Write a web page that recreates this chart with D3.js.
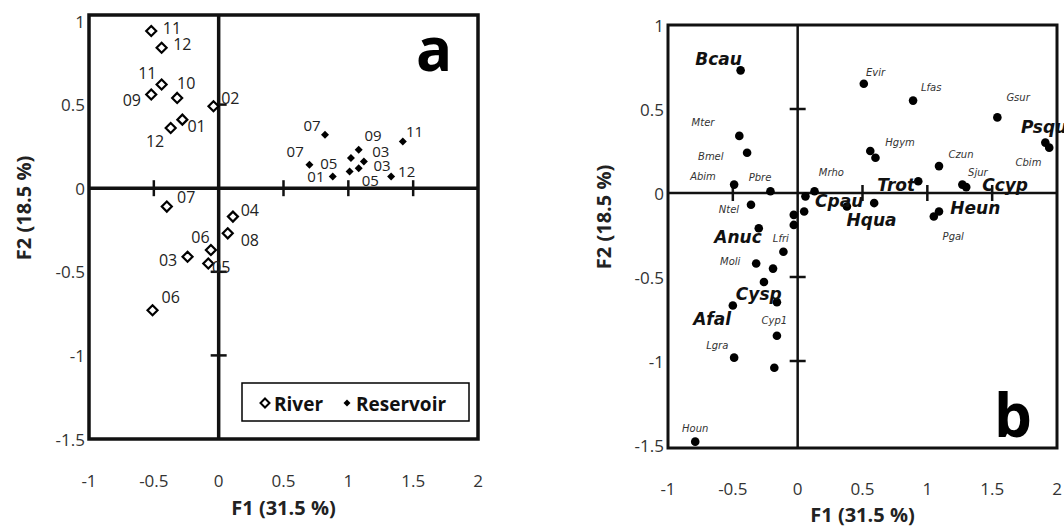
<!DOCTYPE html>
<html><head><meta charset="utf-8">
<script src="https://cdn.jsdelivr.net/npm/d3@7"></script>
<style>body{margin:0;background:#fff} svg{display:block}</style>
</head><body>
<svg id="c" width="1064" height="527"></svg>
<script>
// ---------- shared axis ticks ----------
const f1Ticks = [-1, -0.5, 0, 0.5, 1, 1.5, 2];
const f2Ticks = [-1.5, -1, -0.5, 0, 0.5, 1];
const f1Title = "F1 (31.5 %)";
const f2Title = "F2 (18.5 %)";

// ---------- panel a : sampling occasions ----------
const riverMonth = ["11","12","11","10","09","02","01","12","07","04","08","06","03","05","06"];
const riverF1    = [-0.52,-0.44,-0.44,-0.32,-0.52,-0.04,-0.28,-0.37,-0.40,0.11,0.07,-0.06,-0.24,-0.08,-0.51];
const riverF2    = [0.94,0.84,0.62,0.54,0.56,0.49,0.41,0.36,-0.11,-0.17,-0.27,-0.37,-0.41,-0.45,-0.73];
const riverLabF1 = [-0.36,-0.28,-0.55,-0.25,-0.67,0.09,-0.17,-0.49,-0.25,0.24,0.24,-0.14,-0.39,0.02,-0.37];
const riverLabF2 = [0.96,0.86,0.69,0.63,0.53,0.54,0.37,0.28,-0.05,-0.13,-0.31,-0.29,-0.43,-0.47,-0.65];

const resMonth = ["07","09","11","07","05","03","03","01","05","12"];
const resF1    = [0.82,1.08,1.42,0.70,1.02,1.12,1.08,0.88,1.01,1.33];
const resF2    = [0.32,0.23,0.28,0.14,0.18,0.16,0.12,0.07,0.10,0.07];
const resLabF1 = [0.72,1.19,1.51,0.59,0.85,1.25,1.26,0.75,1.17,1.45];
const resLabF2 = [0.38,0.32,0.34,0.22,0.15,0.22,0.14,0.07,0.05,0.10];
const legendItems = ["River", "Reservoir"];

// ---------- panel b : species ----------
const spF1 = [-0.44,-0.45,-0.39,-0.49,-0.21,-0.36,-0.30,-0.11,-0.32,-0.19,-0.26,-0.16,-0.50,-0.16,-0.49,-0.18,-0.79,
              0.06,0.13,0.05,-0.03,-0.03,0.38,0.59,0.93,0.56,0.60,0.51,0.89,1.54,1.91,1.94,1.09,1.27,1.30,1.09,1.05];
const spF2 = [0.73,0.34,0.24,0.05,0.01,-0.07,-0.21,-0.35,-0.42,-0.45,-0.53,-0.65,-0.67,-0.85,-0.98,-1.04,-1.48,
              -0.02,0.01,-0.11,-0.13,-0.19,-0.08,-0.06,0.07,0.25,0.21,0.65,0.55,0.45,0.30,0.27,0.16,0.05,0.035,-0.11,-0.14];
const spLabel   = ["Bcau","Mter","Bmel","Abim","Pbre","Ntel","Anuc","Lfri","Moli","Cysp","Afal","Cyp1","Lgra","Houn",
                   "Mrho","Cpau","Hqua","Trot","Hgym","Evir","Lfas","Gsur","Psqu","Cbim","Czun","Sjur","Ccyp","Heun","Pgal"];
const spLabelF1 = [-0.61,-0.73,-0.67,-0.73,-0.29,-0.53,-0.46,-0.13,-0.52,-0.30,-0.66,-0.18,-0.62,-0.79,
                   0.26,0.32,0.57,0.76,0.79,0.60,1.03,1.70,1.90,1.78,1.26,1.39,1.60,1.37,1.20];
const spLabelF2 = [0.80,0.42,0.22,0.10,0.09,-0.10,-0.26,-0.27,-0.41,-0.60,-0.75,-0.76,-0.91,-1.40,
                   0.12,-0.05,-0.16,0.05,0.30,0.72,0.63,0.57,0.39,0.18,0.23,0.12,0.05,-0.09,-0.26];
const majorSpecies = ["Bcau","Anuc","Cysp","Afal","Cpau","Hqua","Trot","Psqu","Ccyp","Heun"];

// ---------- drawing ----------
const svg = d3.select("#c");
const INK = "#111";

function panel(cfg) {
  const x = d3.scaleLinear().domain([-1, 2]).range([cfg.x0, cfg.x1]);
  const y = d3.scaleLinear().domain([-1.5, 1]).range([cfg.yb, cfg.yt]);
  const g = svg.append("g");
  g.append("rect").attr("x", cfg.x0).attr("y", cfg.frameTop)
    .attr("width", cfg.x1 - cfg.x0).attr("height", cfg.frameBot - cfg.frameTop)
    .attr("fill", "none").attr("stroke", INK).attr("stroke-width", cfg.frameW);
  g.append("line").attr("x1", cfg.x0).attr("x2", cfg.x1).attr("y1", y(0)).attr("y2", y(0))
    .attr("stroke", INK).attr("stroke-width", cfg.zeroW);
  g.append("line").attr("x1", x(0)).attr("x2", x(0)).attr("y1", cfg.frameTop).attr("y2", cfg.frameBot)
    .attr("stroke", INK).attr("stroke-width", cfg.zeroW);
  const xt = f1Ticks.filter(d => d !== 0 && d > -1 && d < 2);
  g.selectAll(null).data(xt).join("line")
    .attr("x1", d => x(d)).attr("x2", d => x(d)).attr("y1", y(0) - 8).attr("y2", y(0) + 8)
    .attr("stroke", INK).attr("stroke-width", 2.5);
  const yt = f2Ticks.filter(d => d !== 0 && d > -1.5 && d < 1);
  g.selectAll(null).data(yt).join("line")
    .attr("y1", d => y(d)).attr("y2", d => y(d)).attr("x1", x(0) - 8).attr("x2", x(0) + 8)
    .attr("stroke", INK).attr("stroke-width", 2.5);
  g.selectAll(null).data(f1Ticks).join("text")
    .attr("x", d => x(d)).attr("y", cfg.xLabY).attr("text-anchor", "middle")
    .attr("dominant-baseline", "central")
    .attr("font-family", "Open Sans").attr("font-size", 17).attr("fill", "#333")
    .text(d => d);
  g.selectAll(null).data(f2Ticks).join("text")
    .attr("x", cfg.x0 - 4).attr("y", d => y(d)).attr("text-anchor", "end")
    .attr("dominant-baseline", "central")
    .attr("font-family", "Open Sans").attr("font-size", 17).attr("fill", "#333")
    .text(d => d);
  g.append("text").attr("x", (cfg.x0 + cfg.x1) / 2).attr("y", cfg.xTitleY)
    .attr("text-anchor", "middle").attr("dominant-baseline", "central")
    .attr("font-family", "Open Sans").attr("font-weight", "bold").attr("font-size", 20)
    .attr("fill", "#222").text(f1Title);
  g.append("text").attr("transform", `translate(${cfg.yTitleX},${cfg.yTitleY}) rotate(-90)`)
    .attr("text-anchor", "middle").attr("dominant-baseline", "central")
    .attr("font-family", "Open Sans").attr("font-weight", "bold").attr("font-size", 20)
    .attr("fill", "#222").text(f2Title);
  g.append("text").attr("x", cfg.letterX).attr("y", cfg.letterY)
    .attr("text-anchor", "middle")
    .attr("font-family", "Open Sans").attr("font-weight", "bold").attr("font-size", 60)
    .attr("fill", "#000").text(cfg.letter);
  return {g, x, y};
}

// ----- panel a -----
const A = panel({x0: 89, x1: 478, yt: 21, yb: 439, frameTop: 15, frameBot: 439,
  frameW: 3.5, zeroW: 3.5, xLabY: 480, xTitleY: 507, yTitleX: 23, yTitleY: 208,
  letter: "a", letterX: 434, letterY: 71});

const diamond = s => `M0,${-s}L${s},0L0,${s}L${-s},0Z`;
const riverIdx = d3.range(riverMonth.length);
A.g.selectAll(null).data(riverIdx).join("path")
  .attr("transform", i => `translate(${A.x(riverF1[i])},${A.y(riverF2[i])})`)
  .attr("d", diamond(5)).attr("fill", "#fff").attr("stroke", "#000").attr("stroke-width", 2.2);
A.g.selectAll(null).data(riverIdx).join("text")
  .attr("x", i => A.x(riverLabF1[i])).attr("y", i => A.y(riverLabF2[i]))
  .attr("text-anchor", "middle").attr("dominant-baseline", "central")
  .attr("font-family", "Open Sans").attr("font-size", 16).attr("fill", "#222")
  .text(i => riverMonth[i]);
const resIdx = d3.range(resMonth.length);
A.g.selectAll(null).data(resIdx).join("path")
  .attr("transform", i => `translate(${A.x(resF1[i])},${A.y(resF2[i])})`)
  .attr("d", diamond(4)).attr("fill", "#000");
A.g.selectAll(null).data(resIdx).join("text")
  .attr("x", i => A.x(resLabF1[i])).attr("y", i => A.y(resLabF2[i]))
  .attr("text-anchor", "middle").attr("dominant-baseline", "central")
  .attr("font-family", "Open Sans").attr("font-size", 15).attr("fill", "#222")
  .text(i => resMonth[i]);

// legend
const lg = A.g.append("g");
lg.append("rect").attr("x", 242).attr("y", 383).attr("width", 227).attr("height", 38)
  .attr("fill", "#fff").attr("stroke", "#000").attr("stroke-width", 1.5);
lg.append("path").attr("transform", "translate(265,403)").attr("d", diamond(4.5))
  .attr("fill", "#fff").attr("stroke", "#000").attr("stroke-width", 2);
lg.append("text").attr("x", 274).attr("y", 404).attr("dominant-baseline", "central")
  .attr("font-family", "Open Sans").attr("font-weight", "bold").attr("font-size", 19)
  .attr("fill", "#111").text(legendItems[0]);
lg.append("path").attr("transform", "translate(347,403)").attr("d", diamond(3.5)).attr("fill", "#000");
lg.append("text").attr("x", 356).attr("y", 404).attr("dominant-baseline", "central")
  .attr("font-family", "Open Sans").attr("font-weight", "bold").attr("font-size", 19)
  .attr("fill", "#111").text(legendItems[1]);

// ----- panel b -----
const B = panel({x0: 668, x1: 1057, yt: 25, yb: 445, frameTop: 25, frameBot: 448,
  frameW: 3, zeroW: 2.5, xLabY: 488, xTitleY: 514, yTitleX: 603, yTitleY: 217,
  letter: "b", letterX: 1013, letterY: 437});

const spIdx = d3.range(spF1.length);
B.g.selectAll(null).data(spIdx).join("circle")
  .attr("cx", i => B.x(spF1[i])).attr("cy", i => B.y(spF2[i])).attr("r", 4.3).attr("fill", "#000");
const labIdx = d3.range(spLabel.length);
B.g.selectAll(null).data(labIdx).join("text")
  .attr("x", i => B.x(spLabelF1[i])).attr("y", i => B.y(spLabelF2[i]))
  .attr("text-anchor", "middle").attr("dominant-baseline", "central")
  .attr("font-family", "DejaVu Sans").attr("font-style", "italic")
  .attr("font-weight", i => majorSpecies.includes(spLabel[i]) ? "bold" : "normal")
  .attr("font-size", i => majorSpecies.includes(spLabel[i]) ? 17 : 10)
  .attr("fill", i => majorSpecies.includes(spLabel[i]) ? "#111" : "#333")
  .text(i => spLabel[i]);
</script>
</body></html>
